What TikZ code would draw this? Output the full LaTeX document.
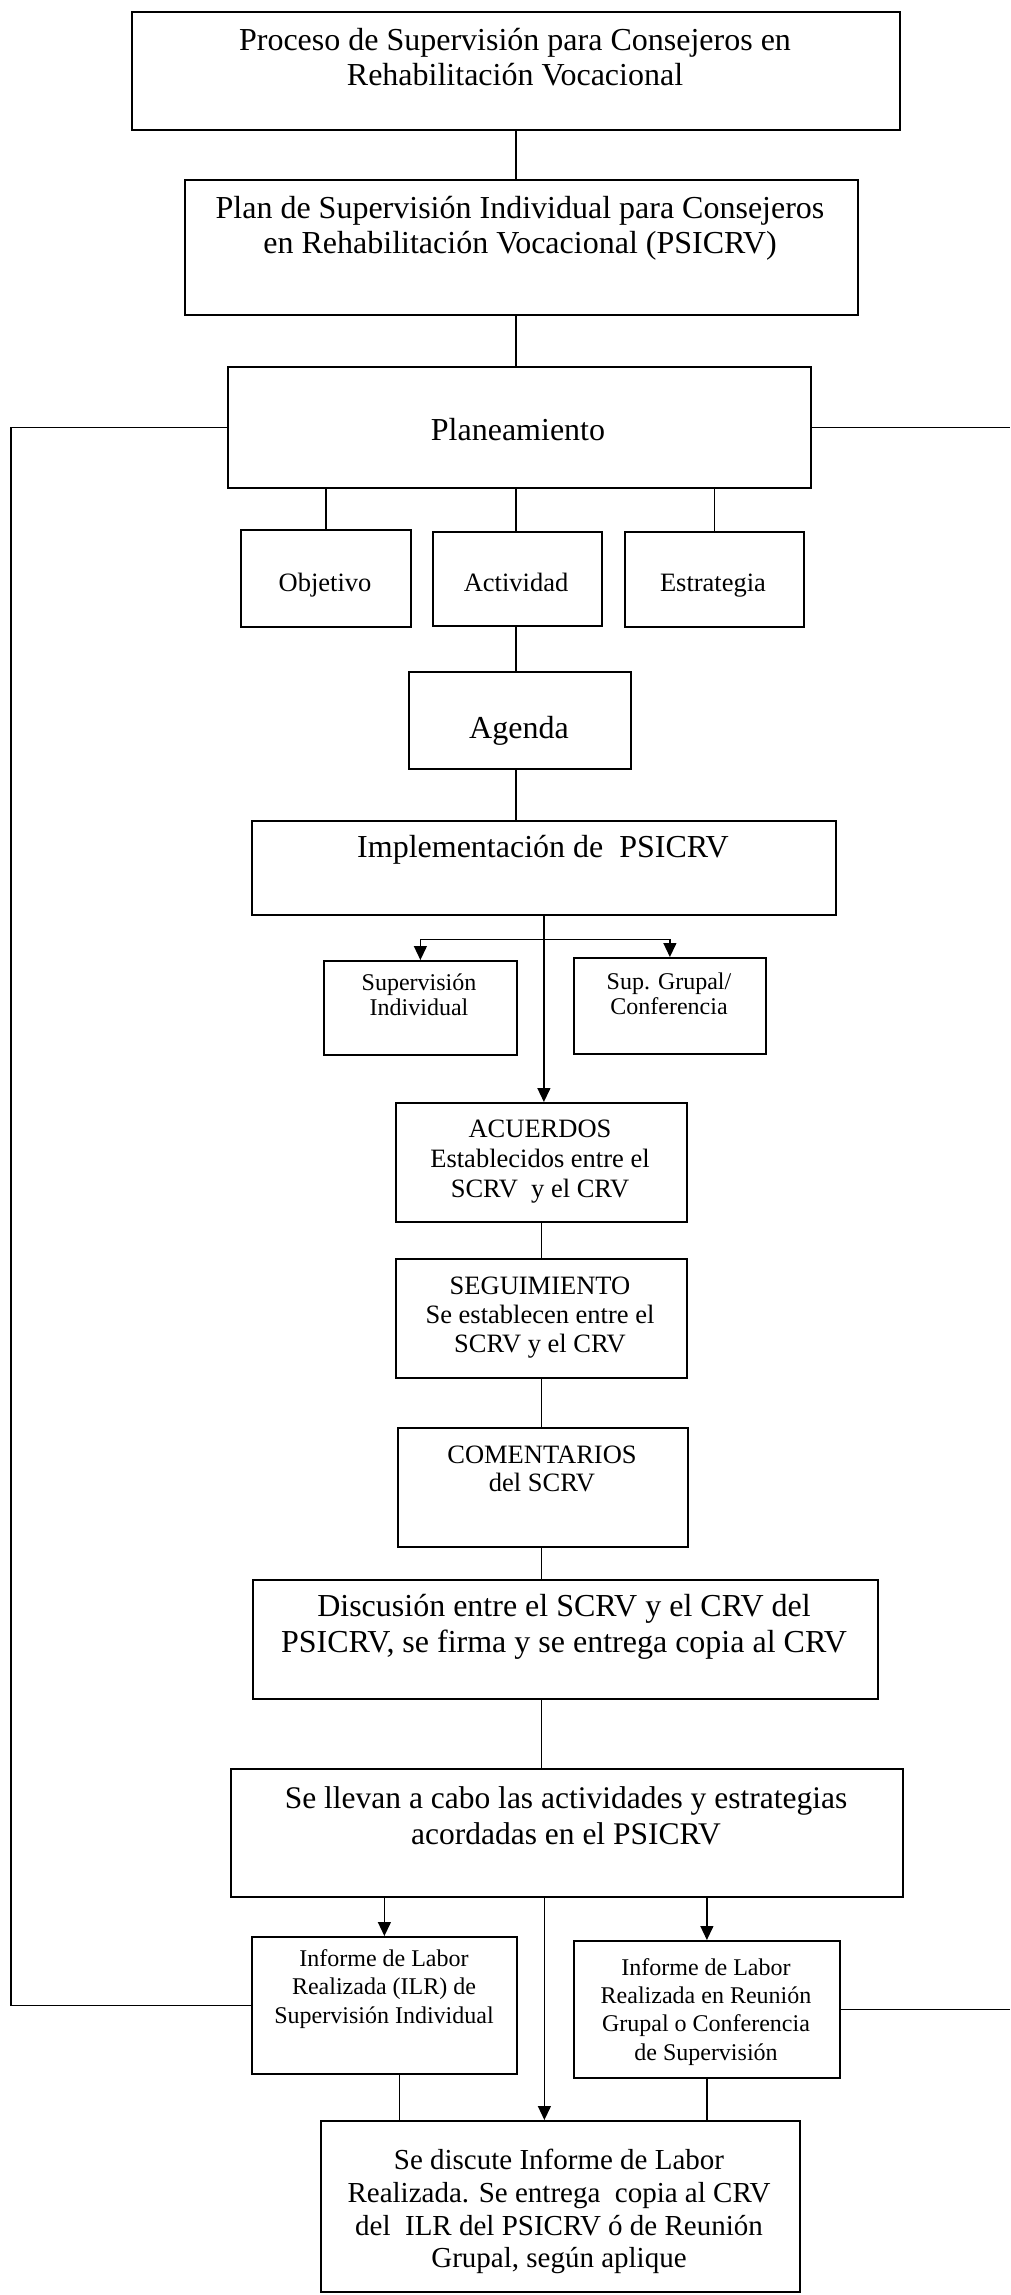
\documentclass[tikz,border=0pt]{standalone}
\usepackage{fontspec}
\setmainfont{Liberation Serif}
\usetikzlibrary{arrows.meta}
\begin{document}
\begin{tikzpicture}[x=1pt,y=-1pt,
  box/.style={draw, line width=1.8pt, rectangle, inner sep=0pt, anchor=north west},
  txt/.style={inner sep=0pt, align=center},
  big/.style={txt, font=\fontsize{32}{34}\selectfont},
  mid/.style={txt, font=\fontsize{26.5}{29}\selectfont},
  sml/.style={txt, font=\fontsize{24}{25}\selectfont},
  conn/.style={line width=1.3pt},
  arr/.style={conn, -{Triangle[width=13pt,length=14pt]}}]
\useasboundingbox (0,0) rectangle (1010,2295);

% boxes
\node[box, minimum width=768pt, minimum height=118pt] (b1) at (131,11) {};
\node[box, minimum width=673pt, minimum height=135pt] (b2) at (184,179) {};
\node[box, minimum width=583pt, minimum height=121pt] (b3) at (227,366) {};
\node[box, minimum width=170pt, minimum height=97pt] (obj) at (240,529) {};
\node[box, minimum width=169pt, minimum height=94pt] (act) at (432,531) {};
\node[box, minimum width=179pt, minimum height=95pt] (est) at (624,531) {};
\node[box, minimum width=222pt, minimum height=97pt] (agenda) at (408,671) {};
\node[box, minimum width=584pt, minimum height=94pt] (impl) at (251,820) {};
\node[box, minimum width=193pt, minimum height=94pt] (supind) at (323,960) {};
\node[box, minimum width=192pt, minimum height=96pt] (supgrp) at (573,957) {};
\node[box, minimum width=291pt, minimum height=119pt] (acu) at (395,1102) {};
\node[box, minimum width=291pt, minimum height=119pt] (seg) at (395,1258) {};
\node[box, minimum width=290pt, minimum height=119pt] (com) at (397,1427) {};
\node[box, minimum width=625pt, minimum height=119pt] (disc) at (252,1579) {};
\node[box, minimum width=672pt, minimum height=128pt] (llevan) at (230,1768) {};
\node[box, minimum width=265pt, minimum height=137pt] (ilr) at (251,1936) {};
\node[box, minimum width=266pt, minimum height=137pt] (inf2) at (573,1940) {};
\node[box, minimum width=479pt, minimum height=171pt] (disc2) at (320,2120) {};

% texts
\node[big, anchor=north, font=\fontsize{32}{35}\selectfont] (t1) at (515,28)
  {Proceso de Supervisión para Consejeros en\\Rehabilitación Vocacional};
\node[big, anchor=north, font=\fontsize{32}{35}\selectfont] (t2) at (520,196)
  {Plan de Supervisión Individual para Consejeros\\en Rehabilitación Vocacional (PSICRV)};
\node[big, anchor=base] (t3) at (518,440) {Planeamiento};
\node[mid, anchor=base] (tobj) at (325,591) {Objetivo};
\node[mid, anchor=base] (tact) at (516,591) {Actividad};
\node[mid, anchor=base] (test) at (713,591) {Estrategia};
\node[big, anchor=base] (tagenda) at (519,738) {Agenda};
\node[big, anchor=base] (timpl) at (543,857) {Implementación de\ \ PSICRV};
\node[sml, anchor=north] (tsupind) at (419,974) {Supervisión\\Individual};
\node[sml, anchor=north] (tsupgrp) at (669,973) {Sup. Grupal/\\Conferencia};
\node[mid, anchor=north, font=\fontsize{26.5}{30}\selectfont] (tacu) at (540,1120)
  {ACUERDOS\\Establecidos entre el\\SCRV\ \ y el CRV};
\node[mid, anchor=north, font=\fontsize{26.5}{29}\selectfont] (tseg) at (540,1277)
  {SEGUIMIENTO\\Se establecen entre el\\SCRV y el CRV};
\node[mid, anchor=north, font=\fontsize{26.5}{28}\selectfont] (tcom) at (542,1446)
  {COMENTARIOS\\del SCRV};
\node[big, anchor=north, font=\fontsize{32}{36}\selectfont] (tdisc) at (564,1594)
  {Discusión entre el SCRV y el CRV del\\PSICRV, se firma y se entrega copia al CRV};
\node[big, anchor=north, font=\fontsize{31.5}{36}\selectfont] (tllevan) at (566,1786)
  {Se llevan a cabo las actividades y estrategias\\acordadas en el PSICRV};
\node[sml, anchor=north, font=\fontsize{24}{28.5}\selectfont] (tilr) at (384,1949)
  {Informe de Labor\\Realizada (ILR) de\\Supervisión Individual};
\node[sml, anchor=north, font=\fontsize{24}{28.3}\selectfont] (tinf2) at (706,1958)
  {Informe de Labor\\Realizada en Reunión\\Grupal o Conferencia\\de Supervisión};
\node[txt, anchor=north, font=\fontsize{29}{32.7}\selectfont] (tdisc2) at (559,2149)
  {Se discute Informe de Labor\\Realizada. Se entrega\ \ copia al CRV\\del\ \ ILR del PSICRV ó de Reunión\\Grupal, según aplique};

% helper coordinates
\coordinate (Lx) at (11,0);
\coordinate (Rx) at (1010,0);
\coordinate (br) at ([yshift=-24pt]impl.south);
\coordinate (mid) at ([xshift=-16pt]disc2.north);
\coordinate (ilrb) at ([xshift=15pt]ilr.south);

% connectors
\draw[conn] (b1.south) -- (b1.south |- b2.north);
\draw[conn] (b1.south |- b2.south) -- (b1.south |- b3.north);
\draw[conn] (obj.north |- b3.south) -- (est.north |- b3.south);
\draw[conn] (obj.north |- b3.south) -- (obj.north);
\draw[conn] (b1.south |- b3.south) -- (b1.south |- act.north);
\draw[conn] (est.north |- b3.south) -- (est.north);
\draw[conn] (b1.south |- act.south) -- (b1.south |- agenda.north);
\draw[conn] (b1.south |- agenda.south) -- (b1.south |- impl.north);
\draw[arr] (impl.south) -- (impl.south |- acu.north);
\draw[arr] (br) -| (supind.north);
\draw[arr] (br) -| (supgrp.north);
\draw[conn] (acu.south) -- (acu.south |- seg.north);
\draw[conn] (seg.south) -- (seg.south |- com.north);
\draw[conn] (seg.south |- com.south) -- (seg.south |- disc.north);
\draw[conn] (seg.south |- disc.south) -- (seg.south |- llevan.north);
\draw[arr] (ilr.north |- llevan.south) -- (ilr.north);
\draw[arr] (inf2.north |- llevan.south) -- (inf2.north);
\draw[arr] (mid |- llevan.south) -- (mid);
\draw[conn] (ilrb) -- (ilrb |- disc2.north);
\draw[conn] (inf2.south) -- (inf2.south |- disc2.north);
\draw[conn] (ilr.west) -| (Lx |- b3.west) -- (b3.west);
\draw[conn] (b3.east) -- (Rx |- b3.east);
\draw[conn] (inf2.east) -- (Rx |- inf2.east);
\end{tikzpicture}
\end{document}
